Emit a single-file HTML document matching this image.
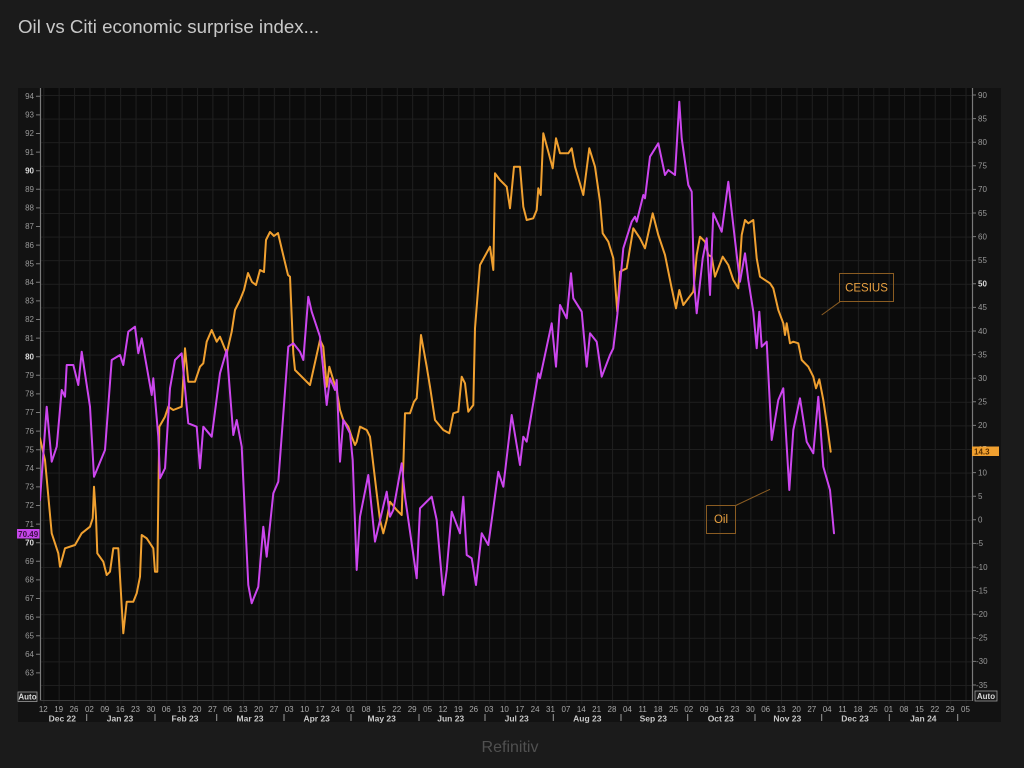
<!DOCTYPE html>
<html><head><meta charset="utf-8"><style>
html,body{margin:0;padding:0;background:#1b1b1b;}
svg{display:block;}
text{font-family:"Liberation Sans",Arial,sans-serif;}
</style></head><body>
<svg width="1024" height="768" viewBox="0 0 1024 768" xmlns="http://www.w3.org/2000/svg">
<defs>
<pattern id="grid" patternUnits="userSpaceOnUse" x="43.3" y="95" width="15.37" height="23.6">
<path d="M0.5 0 V23.6 M0 0.5 H15.37" stroke="#1f1f1f" stroke-width="1" fill="none"/>
</pattern>
<clipPath id="pc"><rect x="40" y="88" width="932" height="612"/></clipPath>
</defs>
<rect width="1024" height="768" fill="#1b1b1b"/>
<text x="18" y="33" font-size="18.7" fill="#c8c8c8">Oil vs Citi economic surprise index...</text>
<!-- panel -->
<rect x="18" y="88" width="983" height="634" fill="#121212"/>
<rect x="40" y="88" width="932" height="612" fill="#0b0b0b"/>
<rect x="40" y="88" width="932" height="612" fill="url(#grid)"/>
<!-- axes -->
<line x1="40.5" y1="88" x2="40.5" y2="701" stroke="#7a7a7a" stroke-width="1.2"/>
<line x1="972.5" y1="88" x2="972.5" y2="701" stroke="#7a7a7a" stroke-width="1.2"/>
<line x1="40" y1="700.5" x2="972" y2="700.5" stroke="#3a3a3a" stroke-width="1"/>
<!-- left ticks & labels -->
<g stroke="#7a7a7a" stroke-width="1">
<path d="M36 96.3H40M36 114.9H40M36 133.5H40M36 152.1H40M36 170.7H40M36 189.3H40M36 207.9H40M36 226.5H40M36 245.1H40M36 263.7H40M36 282.3H40M36 300.9H40M36 319.5H40M36 338.1H40M36 356.7H40M36 375.3H40M36 393.9H40M36 412.5H40M36 431.1H40M36 449.7H40M36 468.3H40M36 486.9H40M36 505.5H40M36 524.1H40M36 542.7H40M36 561.3H40M36 579.9H40M36 598.5H40M36 617.1H40M36 635.7H40M36 654.3H40M36 672.9H40"/>
</g>
<g font-size="8" fill="#9a9a9a" text-anchor="end">
<text x="34" y="99">94</text><text x="34" y="117.6">93</text><text x="34" y="136.2">92</text><text x="34" y="154.8">91</text>
<text x="34" y="173.4" fill="#dcdcdc" font-weight="bold">90</text><text x="34" y="192">89</text><text x="34" y="210.6">88</text><text x="34" y="229.2">87</text><text x="34" y="247.8">86</text><text x="34" y="266.4">85</text><text x="34" y="285">84</text><text x="34" y="303.6">83</text><text x="34" y="322.2">82</text><text x="34" y="340.8">81</text>
<text x="34" y="359.4" fill="#dcdcdc" font-weight="bold">80</text><text x="34" y="378">79</text><text x="34" y="396.6">78</text><text x="34" y="415.2">77</text><text x="34" y="433.8">76</text><text x="34" y="452.4">75</text><text x="34" y="471">74</text><text x="34" y="489.6">73</text><text x="34" y="508.2">72</text><text x="34" y="526.8">71</text>
<text x="34" y="545.4" fill="#dcdcdc" font-weight="bold">70</text><text x="34" y="564">69</text><text x="34" y="582.6">68</text><text x="34" y="601.2">67</text><text x="34" y="619.8">66</text><text x="34" y="638.4">65</text><text x="34" y="657">64</text><text x="34" y="675.6">63</text>
</g>
<!-- right ticks & labels -->
<g stroke="#7a7a7a" stroke-width="1">
<path d="M972 95H976M972 118.6H976M972 142.2H976M972 165.8H976M972 189.4H976M972 213H976M972 236.6H976M972 260.2H976M972 283.8H976M972 307.4H976M972 331H976M972 354.6H976M972 378.2H976M972 401.8H976M972 425.4H976M972 449H976M972 472.6H976M972 496.2H976M972 519.8H976M972 543.4H976M972 567H976M972 590.6H976M972 614.2H976M972 637.8H976M972 661.4H976M972 685H976"/>
</g>
<g font-size="8" fill="#9a9a9a">
<text x="978" y="97.8">90</text><text x="978" y="121.4">85</text><text x="978" y="145">80</text><text x="978" y="168.6">75</text><text x="978" y="192.2">70</text><text x="978" y="215.8">65</text><text x="978" y="239.4">60</text><text x="978" y="263">55</text>
<text x="978" y="286.6" fill="#dcdcdc" font-weight="bold">50</text><text x="978" y="310.2">45</text><text x="978" y="333.8">40</text><text x="978" y="357.4">35</text><text x="978" y="381">30</text><text x="978" y="404.6">25</text><text x="978" y="428.2">20</text><text x="978" y="451.8">15</text><text x="978" y="475.4">10</text><text x="978" y="499">5</text>
<text x="978" y="522.6">0</text><text x="976" y="546.2">-5</text><text x="976" y="569.8">-10</text><text x="976" y="593.4">-15</text><text x="976" y="617">-20</text><text x="976" y="640.6">-25</text><text x="976" y="664.2">-30</text><text x="976" y="687.8">-35</text>
</g>
<!-- series -->
<g clip-path="url(#pc)" fill="none" stroke-width="2" stroke-linejoin="round" stroke-linecap="round">
<polyline stroke="#f0a030" points="40,438.3 45,460 51.7,533.3 58.3,553.3 60,566.7 65,548.3 75,545 81.7,533.3 90,526.7 92.7,518.3 94,486.7 96,516.7 97.3,553.3 103.3,561.7 106.7,575 110,571.7 113.3,548.3 118.3,548.3 120,576.7 123.3,633.3 126.7,601.7 133.3,601.7 136.7,593.3 140,576.7 141.7,535 146.7,538.3 153.3,548.3 155,571.7 157.3,571.7 159.3,426.7 165,416.7 168.3,406.7 173.3,410 181.7,406.7 185,348.3 188.3,381.7 195,381.7 200,366.7 203.3,363.3 206.7,341.7 211.7,330 216.7,341.7 220,336.7 226.7,353.3 231.7,331.7 235,310 240,300 244,290 248,273 252,282 256,285 260,270 264,272 266,240 270,232 274,236 278,233 282,250 288,275 290,276.7 293.3,353.3 295,370 310,385 320,340 323.3,346.7 326.7,386.7 329.3,366.7 333.3,380 336.7,390 340,410 343.3,420 348.3,426.7 351.7,436.7 355,445 356.7,441.7 360,426.7 366.7,430 370,436.7 376.7,493.3 380,520 383.3,533.3 386.7,520 390,501.7 396.7,510 401.7,515 405,413.3 410,413.3 414,401.7 416.7,398.3 421,335 426.7,366.7 430,386.7 435,420 443.3,430 449.3,433.3 453.3,413.3 458.3,411.7 461.7,376.7 465,383.3 468.3,411.7 473.3,405 475,328.3 480,265 490,246.7 493.3,270 495,173.3 500,180 506.7,186.7 510,208.3 514,166.7 520,166.7 523.3,206.7 526.7,220 533.3,218.3 536.7,210 538.3,188.3 540.7,195 543.3,133.3 548.3,151.7 552.7,168.3 556,138.3 560,153.3 568.3,153.3 571.7,148.3 575,166.7 583.3,195 589.3,148.3 595,166.7 600,201.7 602.7,233.3 608.3,241.7 613.3,258.3 616,295 617.3,311.7 620,271.7 626.7,268.3 633.3,228.3 640,238.3 645,248.3 652.7,213.3 658.3,235 665,255 671.7,288.3 676,308.3 679.3,290 683.3,305 688.3,298.3 693.3,291.7 696.7,255 700,236.7 705,241.7 708.3,255 711.7,256.7 715,276.7 722.7,256.7 728.3,265 733.3,280 738.3,288.3 741.7,235 745,220 748.3,223.3 753.3,220 756.7,258.3 760,276.7 770,283.3 773.3,288.3 778.3,310 783.3,323.3 785,335 786.7,323.3 790,343.3 793.3,341.7 798.3,343.3 801.7,360 808.3,366.7 813.3,376.7 816,388.3 819.3,379.3 823.3,400 827.3,426.7 830.7,451.7"/>
<polyline stroke="#cc46ee" points="40,500 46.7,406.7 51.7,461.7 56.7,446.7 61.7,390 65,396.7 66.7,365 73.3,365 78.3,385 81.7,351.7 90,406.7 94,476.7 105,450 111.7,360 120,355 123.3,365 128.3,331.7 135,326.7 138.3,353.3 141.7,338.3 151.7,395 153.3,378.3 158.3,436.7 160,478.3 165,468.3 170,388.3 175,360 181.7,353.3 188.3,423.3 196.7,426.7 200,468.3 203.3,426.7 211.7,436.7 220,373.3 226.7,350 233.3,435 236.7,420 241.7,446.7 248.3,585 251.7,603.3 258.3,586.7 263.3,526.7 266.7,556.7 273.3,493.3 278.3,481.7 288.3,346.7 293.3,343.3 300,351.7 303.3,360 308.3,296.7 311.7,311.7 320,336.7 326.7,405 330,378.3 335,390 336.7,380 340,461.7 343.3,420 350,433.3 352.7,460 356.7,570 360,516.7 368.3,475 375,541.7 386.7,491.7 390,516.7 393.3,510 401.7,463.3 405,496.7 416.7,578.3 420,508.3 428.3,500 431.7,496.7 436.7,520 443.3,595 446.7,570 451.7,511.7 460,533.3 463.3,496.7 466.7,555 471.7,558.3 476,585 481.7,533.3 488.3,545 498.3,471.7 503.3,486.7 511.7,415 520,465 523.3,436.7 526.7,441.7 538.3,373.3 540,378.3 551.7,323.3 556,366.7 560,305 566.7,318.3 571,273.3 573.3,298.3 581.7,311.7 586.7,366.7 590,333.3 596.7,341.7 601.7,376.7 610,355 613.3,348.3 617.3,315 623.3,248.3 631.7,221.7 635,216.7 636.7,221.7 643.3,195 645,198.3 650,156.7 658.3,143.3 665,175 668.3,170 675,175 679.3,101.7 681.7,138.3 688.3,185 691.7,191.7 694,281.7 696.7,313.3 702.7,258.3 706.7,238.3 710,295 713.3,213.3 721.7,231.7 728.3,181.7 736.7,255 740,281.7 745,253.3 748.3,280 753.3,311.7 756.7,348.3 759.3,311.7 761.7,346.7 766.7,341.7 771.7,440 778.3,400 783.3,388.3 789.3,490 793.3,430 800,398.3 806.7,441.7 813.3,453.3 818.3,396.7 823.3,466.7 830,490 834,533.3"/>
</g>
<!-- annotations -->
<g stroke="#8a5c22" stroke-width="1" fill="none">
<rect x="839.5" y="273.5" width="54" height="28"/>
<line x1="840" y1="301.7" x2="821.7" y2="315"/>
<rect x="706.5" y="505.5" width="29" height="28"/>
<line x1="735.7" y1="505.5" x2="770" y2="489.3"/>
</g>
<text x="866.5" y="291.5" font-size="11.5" fill="#e8a040" text-anchor="middle">CESIUS</text>
<text x="721" y="523" font-size="11.5" fill="#e8a040" text-anchor="middle">Oil</text>
<!-- value tags -->
<rect x="17" y="529" width="22.5" height="9.5" fill="#c646ea"/>
<text x="28.2" y="536.8" font-size="8" fill="#3a1044" text-anchor="middle" font-weight="bold">70.49</text>
<rect x="972" y="446.5" width="27" height="9.5" fill="#f0a030"/>
<text x="974" y="454.3" font-size="8" fill="#5a3000" font-weight="bold">14.3</text>
<!-- Auto boxes -->
<rect x="18" y="692" width="19" height="9.5" fill="#1a1a1a" stroke="#9a9a9a" stroke-width="0.8"/>
<text x="27.5" y="699.6" font-size="8" fill="#d8d8d8" font-weight="bold" text-anchor="middle">Auto</text>
<rect x="975" y="691" width="22" height="10" fill="#1a1a1a" stroke="#9a9a9a" stroke-width="0.8"/>
<text x="986" y="699" font-size="8" fill="#d8d8d8" font-weight="bold" text-anchor="middle">Auto</text>
<!-- x ticks -->
<rect x="40" y="701" width="932" height="3" fill="url(#grid)"/>
<g font-size="8" fill="#a8a8a8" text-anchor="middle">
<text x="43.3" y="712">12</text><text x="58.7" y="712">19</text><text x="74" y="712">26</text><text x="89.4" y="712">02</text><text x="104.8" y="712">09</text><text x="120.2" y="712">16</text><text x="135.5" y="712">23</text><text x="150.9" y="712">30</text><text x="166.3" y="712">06</text><text x="181.6" y="712">13</text><text x="197" y="712">20</text><text x="212.4" y="712">27</text><text x="227.7" y="712">06</text><text x="243.1" y="712">13</text><text x="258.5" y="712">20</text><text x="273.9" y="712">27</text><text x="289.2" y="712">03</text><text x="304.6" y="712">10</text><text x="320" y="712">17</text><text x="335.3" y="712">24</text><text x="350.7" y="712">01</text><text x="366.1" y="712">08</text><text x="381.4" y="712">15</text><text x="396.8" y="712">22</text><text x="412.2" y="712">29</text><text x="427.6" y="712">05</text><text x="442.9" y="712">12</text><text x="458.3" y="712">19</text><text x="473.7" y="712">26</text><text x="489" y="712">03</text><text x="504.4" y="712">10</text><text x="519.8" y="712">17</text><text x="535.1" y="712">24</text><text x="550.5" y="712">31</text><text x="565.9" y="712">07</text><text x="581.3" y="712">14</text><text x="596.6" y="712">21</text><text x="612" y="712">28</text><text x="627.4" y="712">04</text><text x="642.7" y="712">11</text><text x="658.1" y="712">18</text><text x="673.5" y="712">25</text><text x="688.8" y="712">02</text><text x="704.2" y="712">09</text><text x="719.6" y="712">16</text><text x="735" y="712">23</text><text x="750.3" y="712">30</text><text x="765.7" y="712">06</text><text x="781.1" y="712">13</text><text x="796.4" y="712">20</text><text x="811.8" y="712">27</text><text x="827.2" y="712">04</text><text x="842.5" y="712">11</text><text x="857.9" y="712">18</text><text x="873.3" y="712">25</text><text x="888.7" y="712">01</text><text x="904" y="712">08</text><text x="919.4" y="712">15</text><text x="934.8" y="712">22</text><text x="950.1" y="712">29</text><text x="965.5" y="712">05</text>
</g>
<g font-size="8.5" fill="#c8c8c8" font-weight="bold" text-anchor="middle">
<text x="62.3" y="721.5">Dec 22</text><text x="120" y="721.5">Jan 23</text><text x="185" y="721.5">Feb 23</text><text x="250" y="721.5">Mar 23</text><text x="316.7" y="721.5">Apr 23</text><text x="381.7" y="721.5">May 23</text><text x="450.7" y="721.5">Jun 23</text><text x="516.7" y="721.5">Jul 23</text><text x="587.3" y="721.5">Aug 23</text><text x="653.3" y="721.5">Sep 23</text><text x="720.7" y="721.5">Oct 23</text><text x="787.3" y="721.5">Nov 23</text><text x="855" y="721.5">Dec 23</text><text x="923.3" y="721.5">Jan 24</text>
</g>
<g stroke="#9a9a9a" stroke-width="1">
<path d="M86.7 714V721M155 714V721M216.7 714V721M284 714V721M351 714V721M419 714V721M485 714V721M553.3 714V721M621 714V721M687.7 714V721M755 714V721M821.7 714V721M889.3 714V721M957.7 714V721"/>
</g>
<text x="510" y="752" font-size="16" fill="#505050" text-anchor="middle">Refinitiv</text>
</svg>
</body></html>
